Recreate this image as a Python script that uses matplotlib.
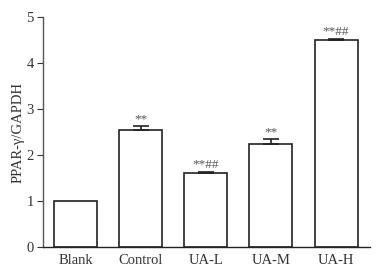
import matplotlib.pyplot as plt

plt.rcParams['font.family'] = ['Liberation Serif', 'DejaVu Serif']
plt.rcParams['axes.linewidth'] = 1

groups = ['Blank', 'Control', 'UA-L', 'UA-M', 'UA-H']
values = [1.0, 2.54, 1.60, 2.24, 4.50]
errors = [0.0, 0.10, 0.04, 0.11, 0.03]
marks = ['', '**', '**##', '**', '**##']

fig = plt.figure(figsize=(3.83, 2.76), dpi=100)
ax = fig.add_axes([0.112, 0.105, 0.854, 0.833])

x = range(len(groups))
ax.bar(x, values, width=0.66, color='white', edgecolor='#222222', linewidth=1.2)
ax.errorbar([i for i in x if errors[i] > 0], [values[i] for i in x if errors[i] > 0],
            yerr=[[0] * 4, [e for e in errors if e > 0]], fmt='none',
            ecolor='#222222', elinewidth=1.2, capsize=6, capthick=1.2)

for i in x:
    if marks[i]:
        ax.text(i, values[i] + errors[i] + 0.01, marks[i], ha='center', va='bottom',
                fontsize=9.5, color='#555555')

ax.set_xlim(-0.5, 4.52)
ax.set_ylim(0, 5)
ax.set_yticks([0, 1, 2, 3, 4, 5])
ax.set_xticks(list(x))
ax.set_xticklabels(groups)
ax.tick_params(axis='x', length=0, pad=5, labelsize=10.5, colors='#333333')
ax.tick_params(axis='y', direction='out', length=4, pad=2.5, labelsize=10.5, colors='#333333')
ax.set_ylabel('PPAR-γ/GAPDH', fontsize=10.5, color='#333333', labelpad=1)
ax.spines['top'].set_visible(False)
ax.spines['right'].set_visible(False)
ax.spines['left'].set_color('#555555')
ax.spines['bottom'].set_color('#222222')

fig.savefig('out.png', dpi=100)
